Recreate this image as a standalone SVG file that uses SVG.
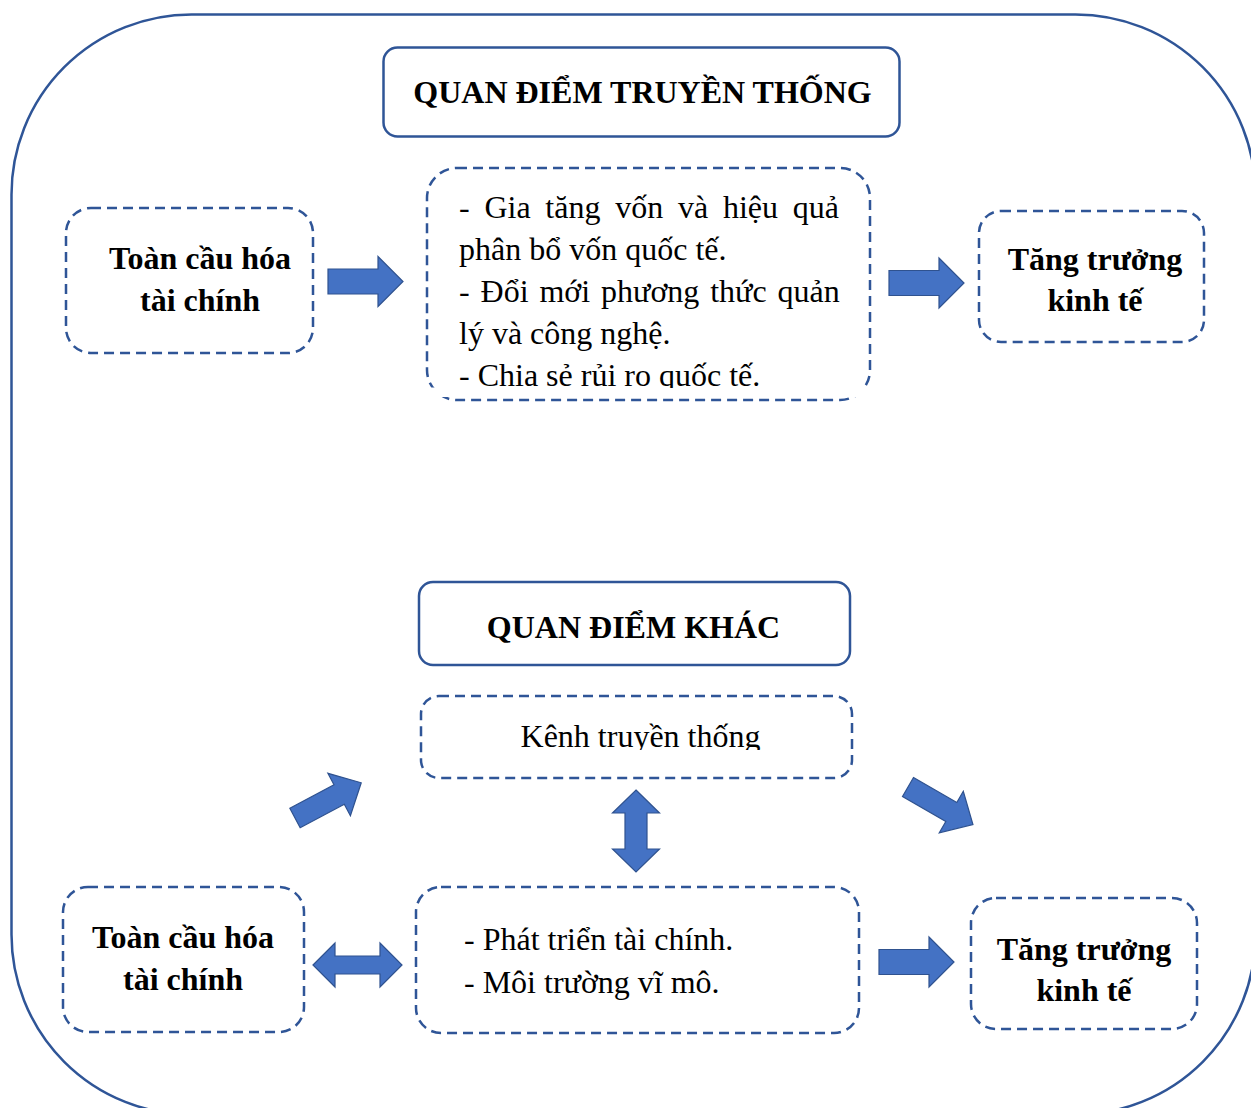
<svg xmlns="http://www.w3.org/2000/svg" width="1251" height="1108" viewBox="0 0 1251 1108">
  <style>
    .frame { fill: none; stroke: #2F5597; stroke-width: 2.5; }
    .title { fill: #ffffff; stroke: #2F5597; stroke-width: 2.5; }
    .dash { fill: #ffffff; stroke: #2F5597; stroke-width: 2.5; stroke-dasharray: 10 6; }
    .arrow { fill: #4472C4; stroke: #2F528F; stroke-width: 1.2; }
    text { font-family: "Liberation Serif", "Times New Roman", "DejaVu Serif", serif; font-size: 32px; fill: #000000; }
    .b { font-weight: bold; }
  </style>
  <defs>
    <!-- block arrow pointing right, origin at tail centre -->
    <path id="rightArrow" d="M0,-12.5 H50 V-25 L75,0 L50,25 V12.5 H0 Z"/>
    <path id="slantArrow" d="M0,-11 H50 V-24 L75,0 L50,24 V11 H0 Z"/>
    <!-- double-headed arrows, origin at left tip -->
    <path id="dblH" d="M0,0 L22,-22 V-9 H67 V-22 L89,0 L67,22 V9 H22 V22 Z"/>
    <path id="dblV" d="M0,0 L23,-23.5 V-11 H59 V-23.5 L82,0 L59,23.5 V11 H23 V23.5 Z"/>
    <clipPath id="clipTop"><rect x="430" y="170" width="440" height="218"/></clipPath>
    <clipPath id="clipKenh"><rect x="425" y="700" width="425" height="50"/></clipPath>
  </defs>

  <!-- outer frame -->
  <rect class="frame" x="11.5" y="14.5" width="1244" height="1100" rx="180" ry="180"/>

  <!-- traditional view -->
  <g id="title-traditional">
    <rect class="title" x="383.5" y="47.5" width="516" height="89" rx="14"/>
    <text class="b" x="642.5" y="103" text-anchor="middle">QUAN ĐIỂM TRUYỀN THỐNG</text>
  </g>

  <g id="node-globalization-1">
    <rect class="dash" x="66" y="208" width="247" height="145" rx="25"/>
    <text class="b" x="200" y="269" text-anchor="middle">Toàn cầu hóa</text>
    <text class="b" x="200" y="311" text-anchor="middle">tài chính</text>
  </g>

  <g id="node-channels-1">
    <rect class="dash" x="427" y="168" width="443" height="232" rx="30"/>
    <rect x="420" y="387.5" width="460" height="9.5" fill="#ffffff"/>
    <g clip-path="url(#clipTop)">
      <text x="459" y="218" word-spacing="6.75">- Gia tăng vốn và hiệu quả</text>
      <text x="459" y="260">phân bổ vốn quốc tế.</text>
      <text x="459" y="302" word-spacing="2.9">- Đổi mới phương thức quản</text>
      <text x="459" y="344">lý và công nghệ.</text>
      <text x="459" y="386">- Chia sẻ rủi ro quốc tế.</text>
    </g>
  </g>

  <g id="node-growth-1">
    <rect class="dash" x="979" y="211" width="225" height="131" rx="22"/>
    <text class="b" x="1095" y="270" text-anchor="middle">Tăng trưởng</text>
    <text class="b" x="1095" y="311" text-anchor="middle">kinh tế</text>
  </g>

  <!-- other view -->
  <g id="title-other">
    <rect class="title" x="419" y="582" width="431" height="83" rx="14"/>
    <text class="b" x="633.5" y="638" text-anchor="middle">QUAN ĐIỂM KHÁC</text>
  </g>

  <g id="node-traditional-channel">
    <rect class="dash" x="421" y="696" width="431" height="82" rx="18"/>
    <g clip-path="url(#clipKenh)">
      <text x="640.5" y="747" text-anchor="middle">Kênh truyền thống</text>
    </g>
  </g>

  <g id="node-globalization-2">
    <rect class="dash" x="63" y="887" width="241" height="145" rx="25"/>
    <text class="b" x="183" y="948" text-anchor="middle">Toàn cầu hóa</text>
    <text class="b" x="183" y="990" text-anchor="middle">tài chính</text>
  </g>

  <g id="node-channels-2">
    <rect class="dash" x="416" y="887" width="443" height="146" rx="25"/>
    <text x="464" y="950">- Phát triển tài chính.</text>
    <text x="464" y="993">- Môi trường vĩ mô.</text>
  </g>

  <g id="node-growth-2">
    <rect class="dash" x="971" y="898" width="226" height="131" rx="25"/>
    <text class="b" x="1084" y="960" text-anchor="middle">Tăng trưởng</text>
    <text class="b" x="1084" y="1001" text-anchor="middle">kinh tế</text>
  </g>

  <!-- connectors -->
  <g id="connectors">
    <use href="#rightArrow" class="arrow" transform="translate(328,281.5)"/>
    <use href="#rightArrow" class="arrow" transform="translate(889,283)"/>
    <use href="#slantArrow" class="arrow" transform="translate(295,818) rotate(-28)"/>
    <use href="#slantArrow" class="arrow" transform="translate(908,787) rotate(30)"/>
    <use href="#dblV" class="arrow" transform="translate(636,790) rotate(90)"/>
    <use href="#dblH" class="arrow" transform="translate(313,965)"/>
    <use href="#rightArrow" class="arrow" transform="translate(879,962)"/>
  </g>
</svg>
